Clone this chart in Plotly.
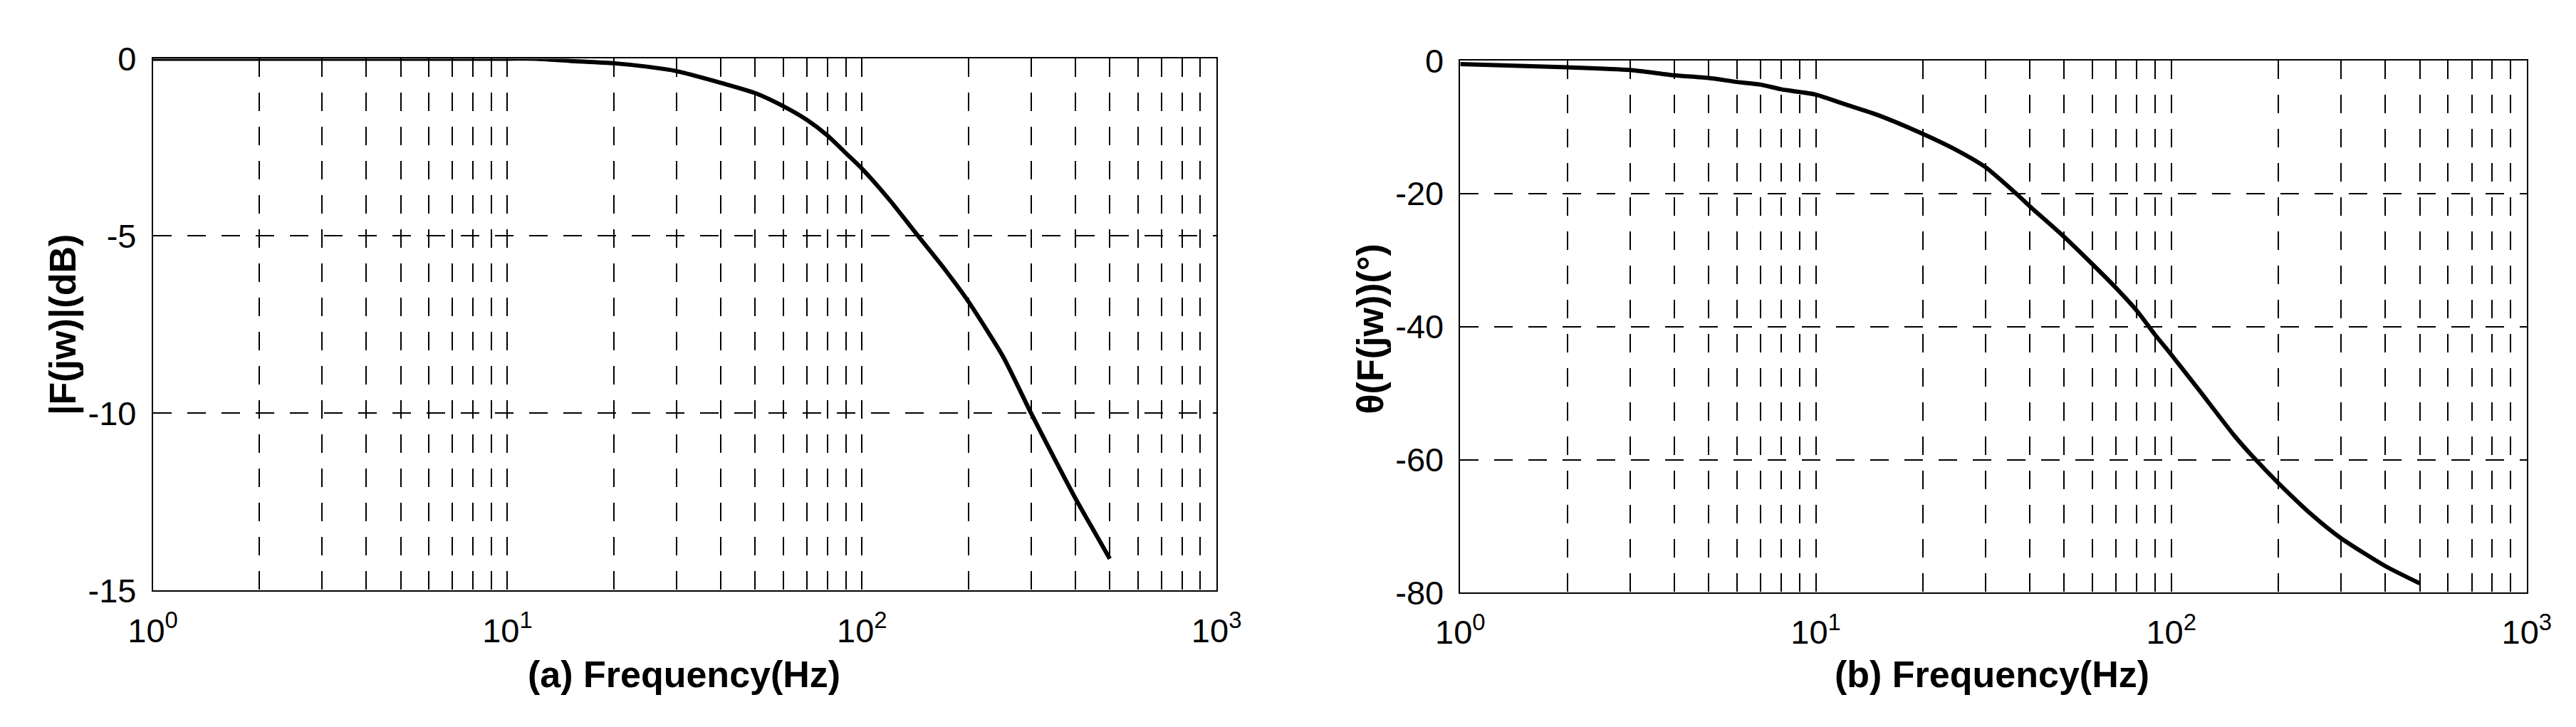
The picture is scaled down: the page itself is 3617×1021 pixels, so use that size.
import plotly.graph_objects as go
from plotly.subplots import make_subplots

# (a) magnitude response
freq_mag = [1, 5, 10, 12, 15, 20, 25, 30, 35, 40, 50, 60, 70, 80, 90, 100,
            120, 144, 170, 200, 250, 300, 350, 400, 450, 500]
mag_db = [0, 0, 0, 0, -0.06, -0.13, -0.23, -0.35, -0.52, -0.68, -0.97, -1.34,
          -1.73, -2.17, -2.66, -3.1, -4.0, -5.0, -5.9, -6.86, -8.4, -10.0,
          -11.3, -12.4, -13.3, -14.1]

# (b) phase response
freq_ph = [1, 2, 3, 4, 5, 6, 7, 8, 9, 10, 12, 15, 20, 25, 30, 37, 40, 50, 60,
           70, 80, 90, 100, 120, 150, 170, 200, 250, 300, 400, 500]
phase_deg = [-0.5, -1.0, -1.4, -2.2, -2.6, -3.2, -3.6, -4.3, -4.7, -5.1, -6.5,
             -8.2, -11.0, -13.5, -16.0, -20.2, -21.9, -26.5, -30.6, -34.2,
             -37.6, -41.2, -44.2, -49.6, -56.3, -59.6, -63.5, -68.4, -71.8,
             -76.0, -78.6]

decade_vals = [1, 10, 100, 1000]
decade_text = ["10<sup>0</sup>", "10<sup>1</sup>", "10<sup>2</sup>", "10<sup>3</sup>"]
minor_vals = [2, 3, 4, 5, 6, 7, 8, 9, 20, 30, 40, 50, 60, 70, 80, 90,
              200, 300, 400, 500, 600, 700, 800, 900]

mag_ticks = [0, -5, -10, -15]
phase_ticks = [0, -20, -40, -60, -80]

W, H = 3617, 1021
FONT = "Liberation Sans, Arial, sans-serif"
DASH = "26px,22px"

fig = make_subplots(rows=1, cols=2)

fig.add_trace(go.Scatter(x=freq_mag, y=mag_db, mode="lines",
                         line=dict(color="black", width=6, shape="spline", smoothing=0.6),
                         showlegend=False), row=1, col=1)
fig.add_trace(go.Scatter(x=freq_ph, y=phase_deg, mode="lines",
                         line=dict(color="black", width=6, shape="spline", smoothing=0.6),
                         showlegend=False), row=1, col=2)

xcommon = dict(
    type="log", range=[0, 3],
    tickmode="array", tickvals=decade_vals, ticktext=decade_text,
    ticks="", ticklabelstandoff=14,
    tickfont=dict(family=FONT, size=47, color="black"),
    showgrid=True, gridcolor="black", gridwidth=1.5, griddash=DASH,
    minor=dict(tickmode="array", tickvals=minor_vals, showgrid=True,
               gridcolor="black", gridwidth=1.5, griddash=DASH),
    showline=True, linecolor="black", linewidth=1.5, mirror=True,
    zeroline=False,
)
ycommon = dict(
    ticks="", ticklabelstandoff=12,
    tickfont=dict(family=FONT, size=47, color="black"),
    showgrid=True, gridcolor="black", gridwidth=1.5, griddash=DASH,
    showline=True, linecolor="black", linewidth=1.5, mirror=True,
    zeroline=False,
)

fig.update_xaxes(**xcommon)
fig.update_yaxes(**ycommon)

fig.update_layout(
    xaxis=dict(domain=[175 / W, 1698 / W]),
    xaxis2=dict(domain=[2047 / W, 3574 / W]),
    yaxis=dict(domain=[1 - 838 / H, 1 - 50 / H], range=[-15, 0],
               tickmode="array", tickvals=mag_ticks,
               ticktext=[str(v) for v in mag_ticks]),
    yaxis2=dict(domain=[1 - 841 / H, 1 - 53 / H], range=[-80, 0],
                tickmode="array", tickvals=phase_ticks,
                ticktext=[str(v) for v in phase_ticks]),
)

title_font = dict(family=FONT, size=52, color="black")
annots = [
    dict(text="<b>(a) Frequency(Hz)</b>", x=936 / W, y=1 - 962 / H),
    dict(text="<b>(b) Frequency(Hz)</b>", x=2808 / W, y=1 - 962 / H),
    dict(text="<b>|F(jw)|(dB)</b>", x=47 / W, y=1 - 444 / H, textangle=-90),
    dict(text="<b>θ(F(jw))(°)</b>", x=1918 / W, y=1 - 450 / H, textangle=-90),
]
for a in annots:
    fig.add_annotation(xref="paper", yref="paper", showarrow=False,
                       xanchor="center", yanchor="middle", font=title_font, **a)

fig.update_layout(
    width=W, height=H,
    margin=dict(l=0, r=0, t=0, b=0),
    paper_bgcolor="white", plot_bgcolor="white",
    showlegend=False,
)

fig.write_html("out.html")
